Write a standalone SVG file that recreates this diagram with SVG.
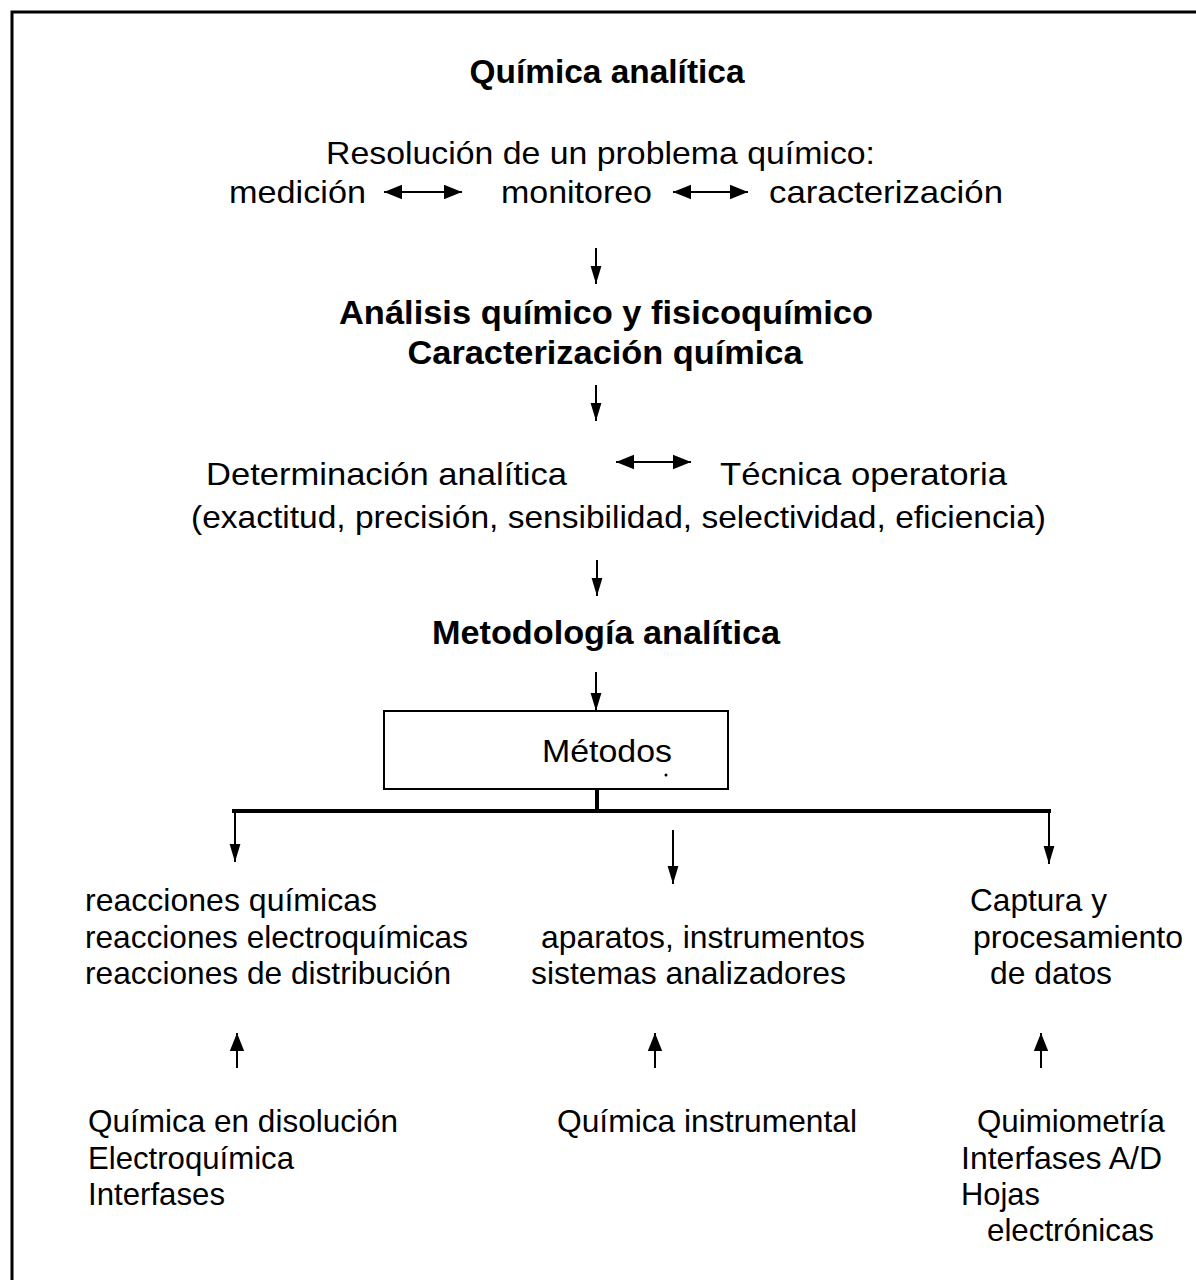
<svg xmlns="http://www.w3.org/2000/svg" width="1196" height="1280" viewBox="0 0 1196 1280">
<defs>
<style>
text{font-family:"Liberation Sans",Arial,sans-serif;fill:#000;font-size:32px}
.b{font-weight:bold;font-size:33px}
.c{text-anchor:middle}
.ln{stroke:#000;stroke-width:2;fill:none}
</style>
<marker id="ah" viewBox="0 0 10 10" refX="10" refY="5" markerWidth="18" markerHeight="18" markerUnits="userSpaceOnUse" orient="auto-start-reverse"><path d="M0,1 L10,5 L0,9 z" fill="#000"/></marker>
<marker id="ad" viewBox="0 0 10 10" refX="10" refY="5" markerWidth="18" markerHeight="18" markerUnits="userSpaceOnUse" orient="auto-start-reverse"><path d="M0,2 L10,5 L0,8 z" fill="#000"/></marker>
</defs>
<rect width="1196" height="1280" fill="#fff"/>
<path d="M12,1280 V12 H1196" stroke="#000" stroke-width="3" fill="none"/>

<g id="n-titulo"><text class="b c" x="607" y="83" textLength="275" lengthAdjust="spacingAndGlyphs">Química analítica</text></g>
<g id="n-resolucion">
<text x="326" y="164" textLength="549" lengthAdjust="spacingAndGlyphs">Resolución de un problema químico:</text>
</g>
<g id="n-medicion"><text x="229" y="203" textLength="137" lengthAdjust="spacingAndGlyphs">medición</text></g>
<g id="n-monitoreo"><text x="501" y="203" textLength="151" lengthAdjust="spacingAndGlyphs">monitoreo</text></g>
<g id="n-caracterizacion"><text x="769" y="203" textLength="234" lengthAdjust="spacingAndGlyphs">caracterización</text></g>
<g id="n-analisis">
<text class="b c" x="606" y="324" textLength="534" lengthAdjust="spacingAndGlyphs">Análisis químico y fisicoquímico</text>
<text class="b c" x="605" y="364" textLength="395" lengthAdjust="spacingAndGlyphs">Caracterización química</text>
</g>
<g id="n-determinacion"><text x="206" y="485" textLength="361" lengthAdjust="spacingAndGlyphs">Determinación analítica</text></g>
<g id="n-tecnica"><text x="720" y="485" textLength="287" lengthAdjust="spacingAndGlyphs">Técnica operatoria</text></g>
<g id="n-propiedades"><text x="191" y="528" textLength="855" lengthAdjust="spacingAndGlyphs">(exactitud, precisión, sensibilidad, selectividad, eficiencia)</text></g>
<g id="n-metodologia"><text class="b c" x="606" y="644" textLength="348" lengthAdjust="spacingAndGlyphs">Metodología analítica</text></g>
<g id="n-metodos">
<rect x="384" y="711" width="344" height="78" fill="#fff" stroke="#000" stroke-width="2"/>
<text x="542" y="762" textLength="130" lengthAdjust="spacingAndGlyphs">Métodos</text>
<circle cx="666" cy="775" r="1.5" fill="#000"/>
</g>
<g id="n-reacciones">
<text x="85" y="911" textLength="292" lengthAdjust="spacingAndGlyphs">reacciones químicas</text>
<text x="85" y="948" textLength="383" lengthAdjust="spacingAndGlyphs">reacciones electroquímicas</text>
<text x="85" y="984" textLength="366" lengthAdjust="spacingAndGlyphs">reacciones de distribución</text>
</g>
<g id="n-aparatos">
<text x="541" y="948" textLength="324" lengthAdjust="spacingAndGlyphs">aparatos, instrumentos</text>
<text x="531" y="984" textLength="315" lengthAdjust="spacingAndGlyphs">sistemas analizadores</text>
</g>
<g id="n-captura">
<text x="970" y="911" textLength="137" lengthAdjust="spacingAndGlyphs">Captura y</text>
<text x="973" y="948" textLength="210" lengthAdjust="spacingAndGlyphs">procesamiento</text>
<text x="990" y="984" textLength="122" lengthAdjust="spacingAndGlyphs">de datos</text>
</g>
<g id="n-disolucion">
<text x="88" y="1132" textLength="310" lengthAdjust="spacingAndGlyphs">Química en disolución</text>
<text x="88" y="1169" textLength="206" lengthAdjust="spacingAndGlyphs">Electroquímica</text>
<text x="88" y="1205" textLength="137" lengthAdjust="spacingAndGlyphs">Interfases</text>
</g>
<g id="n-instrumental">
<text x="557" y="1132" textLength="300" lengthAdjust="spacingAndGlyphs">Química instrumental</text>
</g>
<g id="n-quimiometria">
<text x="977" y="1132" textLength="188" lengthAdjust="spacingAndGlyphs">Quimiometría</text>
<text x="961" y="1169" textLength="201" lengthAdjust="spacingAndGlyphs">Interfases A/D</text>
<text x="961" y="1205" textLength="79" lengthAdjust="spacingAndGlyphs">Hojas</text>
<text x="987" y="1241" textLength="167" lengthAdjust="spacingAndGlyphs">electrónicas</text>
</g>

<g id="connectors">
<line class="ln" x1="384" y1="192" x2="462" y2="192" marker-start="url(#ah)" marker-end="url(#ah)"/>
<line class="ln" x1="673" y1="192" x2="748" y2="192" marker-start="url(#ah)" marker-end="url(#ah)"/>
<line class="ln" x1="616" y1="462" x2="691" y2="462" marker-start="url(#ah)" marker-end="url(#ah)"/>
<line class="ln" x1="596" y1="248" x2="596" y2="284" marker-end="url(#ad)"/>
<line class="ln" x1="596" y1="385" x2="596" y2="421" marker-end="url(#ad)"/>
<line class="ln" x1="597" y1="560" x2="597" y2="596" marker-end="url(#ad)"/>
<line class="ln" x1="596" y1="672" x2="596" y2="711" marker-end="url(#ad)"/>
<line x1="597" y1="789" x2="597" y2="811" stroke="#000" stroke-width="4"/>
<line x1="232" y1="811" x2="1051" y2="811" stroke="#000" stroke-width="4"/>
<line class="ln" x1="235" y1="811" x2="235" y2="862" marker-end="url(#ad)"/>
<line class="ln" x1="673" y1="830" x2="673" y2="884" marker-end="url(#ad)"/>
<line class="ln" x1="1049" y1="811" x2="1049" y2="864" marker-end="url(#ad)"/>
<line class="ln" x1="237" y1="1068" x2="237" y2="1033" marker-end="url(#ah)"/>
<line class="ln" x1="655" y1="1068" x2="655" y2="1033" marker-end="url(#ah)"/>
<line class="ln" x1="1041" y1="1068" x2="1041" y2="1033" marker-end="url(#ah)"/>
</g>
</svg>
